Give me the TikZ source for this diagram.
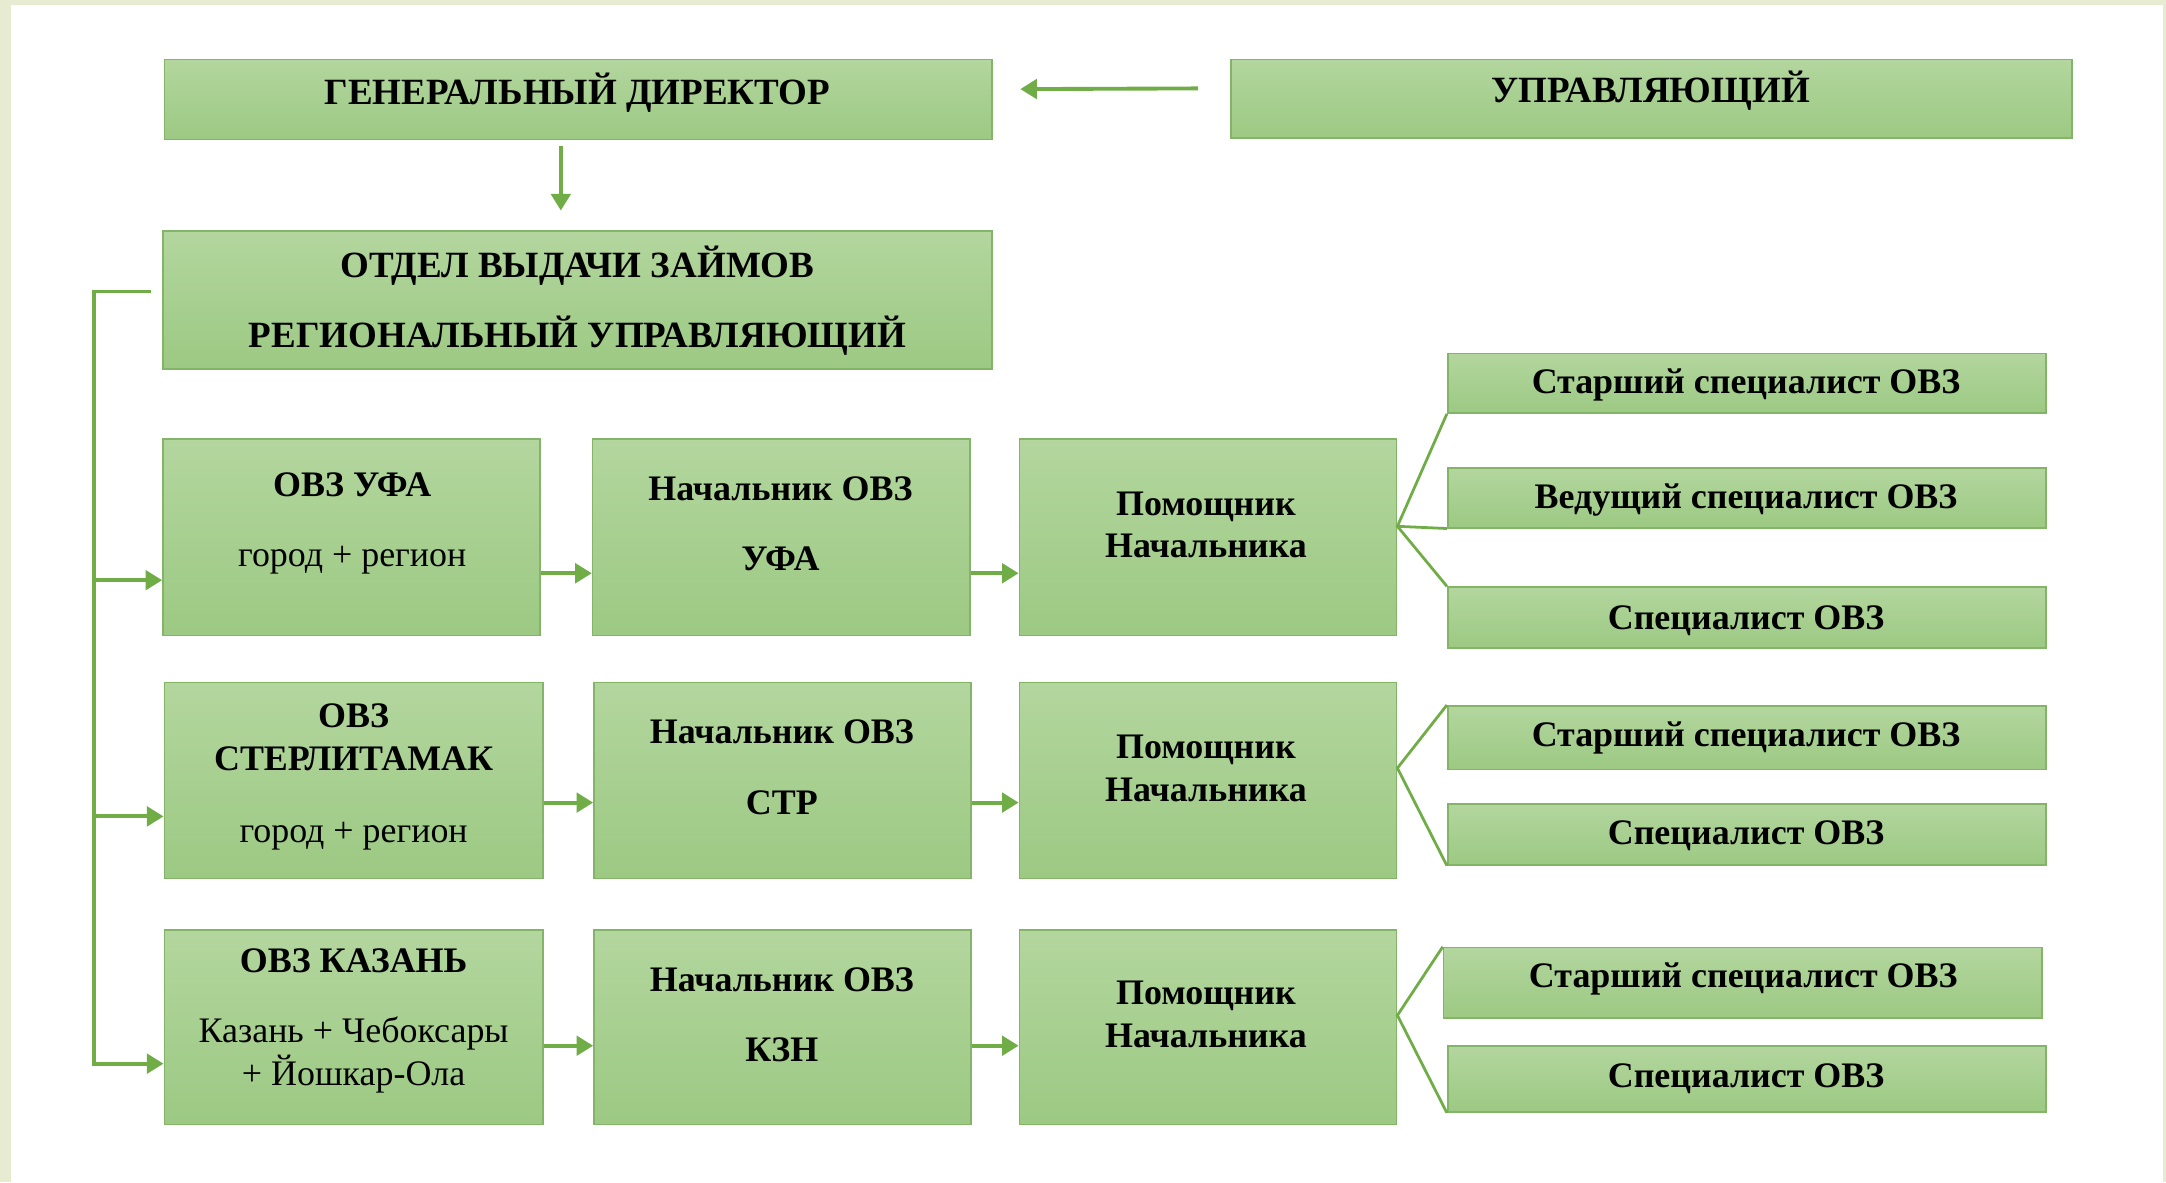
\documentclass[tikz,border=0pt]{standalone}
\usepackage{fontspec}
\setmainfont{Liberation Serif}
\usetikzlibrary{arrows.meta,calc}
\definecolor{cream}{HTML}{E6EBD1}
\definecolor{boxtop}{HTML}{B3D69E}
\definecolor{boxbot}{HTML}{9CC983}
\definecolor{boxline}{HTML}{84B468}
\definecolor{arrowgreen}{HTML}{70AD47}
\newcommand{\bx}[5]{\node[box, minimum width={(#4-#2)*0.5pt}, minimum height={(#5-#3)*0.5pt}] (#1) at ({(#2+#4)/2},{(#3+#5)/2}) {};}
\begin{document}
\begin{tikzpicture}[x={(0.5pt,0)}, y={(0,-0.5pt)},
  box/.style={rectangle, draw=boxline, line width=0.6pt, top color=boxtop, bottom color=boxbot, inner sep=0pt},
  lbl/.style={font=\fontsize{13}{15.5}\selectfont\bfseries, align=center, inner sep=0pt},
  caps/.style={lbl, font=\fontsize{13.4}{15.5}\selectfont\bfseries},
  arr/.style={draw=arrowgreen, line width=1.4pt, -{Triangle[length=6pt,width=7pt]}},
  fan/.style={draw=arrowgreen, line width=1pt}]
% background
\fill[cream] (0,0) rectangle (1568,856);
\fill[white] (8,3.6) rectangle (1566,856);
\useasboundingbox (0,0) rectangle (1568,856);
% boxes
\bx{gd}{119}{43}{718}{101}
\bx{upr}{891}{43}{1500}{100}
\bx{otd}{118}{167}{718}{267}
\bx{ufa}{118}{318}{391}{460}
\bx{nufa}{429}{318}{702}{460}
\bx{pom1}{738}{318}{1011}{460}
\bx{st1}{1048}{256}{1481}{299}
\bx{ved}{1048}{339}{1481}{382}
\bx{sp1}{1048}{425}{1481}{469}
\bx{str}{119}{494}{393}{636}
\bx{nstr}{430}{494}{703}{636}
\bx{pom2}{738}{494}{1011}{636}
\bx{st2}{1048}{511}{1481}{557}
\bx{sp2}{1048}{582}{1481}{626}
\bx{kzn}{119}{673}{393}{814}
\bx{nkzn}{430}{673}{703}{814}
\bx{pom3}{738}{673}{1011}{814}
\bx{st3}{1045}{686}{1478}{737}
\bx{sp3}{1048}{757}{1481}{805}
% texts
\node[caps] (tgd) at (418,67) {ГЕНЕРАЛЬНЫЙ ДИРЕКТОР};
\node[caps] (tupr) at (1195,66) {УПРАВЛЯЮЩИЙ};
\node[caps] (totd) at (418,217.5) {ОТДЕЛ ВЫДАЧИ ЗАЙМОВ\\[10pt]РЕГИОНАЛЬНЫЙ УПРАВЛЯЮЩИЙ};
\node[lbl] (tufa) at (255,379) {ОВЗ УФА\\[10pt]{\mdseries город + регион}};
\node[lbl] (tnufa) at (565,379) {Начальник ОВЗ\\[10pt]УФА};
\node[lbl] (tpom1) at (873,380) {Помощник\\Начальника};
\node[lbl] (tst1) at (1264,279) {Старший специалист ОВЗ};
\node[lbl] (tved) at (1264,362) {Ведущий специалист ОВЗ};
\node[lbl] (tsp1) at (1264,449) {Специалист ОВЗ};
\node[lbl] (tstr) at (256,562.5) {ОВЗ\\СТЕРЛИТАМАК\\[10.5pt]{\mdseries город + регион}};
\node[lbl] (tnstr) at (566,555.5) {Начальник ОВЗ\\[10pt]СТР};
\node[lbl] (tpom2) at (873,556.5) {Помощник\\Начальника};
\node[lbl] (tst2) at (1264,534) {Старший специалист ОВЗ};
\node[lbl] (tsp2) at (1264,605) {Специалист ОВЗ};
\node[lbl] (tkzn) at (256,739) {ОВЗ КАЗАНЬ\\[10pt]{\mdseries Казань + Чебоксары}\\{\mdseries + Йошкар-Ола}};
\node[lbl] (tnkzn) at (566,734.5) {Начальник ОВЗ\\[10pt]КЗН};
\node[lbl] (tpom3) at (873,734.5) {Помощник\\Начальника};
\node[lbl] (tst3) at (1262,709) {Старший специалист ОВЗ};
\node[lbl] (tsp3) at (1264,781) {Специалист ОВЗ};
% top connectors
\draw[arr] ($(upr.west)+(-23,-7.5)$) -- ($(gd.east)+(20,-7.5)$);
\draw[arr] ($(gd.south)+(-12.5,4)$) -- ($(gd.south |- otd.north)+(-12.5,-14)$);
% left bus
\coordinate (bus) at (68,211);
\draw[arr] ($(otd.west)+(-8,-6)$) -- (bus) -- (bus |- {$(kzn.west)+(0,26.5)$}) -- ($(kzn.west)+(0,26.5)$);
\draw[arr] (bus |- {$(ufa.west)+(0,31)$}) -- ($(ufa.west)+(0,31)$);
\draw[arr] (bus |- {$(str.west)+(0,26)$}) -- ($(str.west)+(0,26)$);
% row arrows
\draw[arr] ($(ufa.east)+(0,26)$) -- ($(nufa.west)+(0,26)$);
\draw[arr] ($(nufa.east)+(0,26)$) -- ($(pom1.west)+(0,26)$);
\draw[arr] ($(str.east)+(0,16)$) -- ($(nstr.west)+(0,16)$);
\draw[arr] ($(nstr.east)+(0,16)$) -- ($(pom2.west)+(0,16)$);
\draw[arr] ($(kzn.east)+(0,13.5)$) -- ($(nkzn.west)+(0,13.5)$);
\draw[arr] ($(nkzn.east)+(0,13.5)$) -- ($(pom3.west)+(0,13.5)$);
% fans
\coordinate (j1) at ($(pom1.east)+(0,-8)$);
\draw[fan] (st1.south west) -- (j1) -- (sp1.north west);
\draw[fan] (j1) -- (ved.south west);
\coordinate (j2) at ($(pom2.east)+(0,-9)$);
\draw[fan] (st2.north west) -- (j2) -- (sp2.south west);
\coordinate (j3) at ($(pom3.east)+(0,-8.5)$);
\draw[fan] (st3.north west) -- (j3) -- (sp3.south west);
\end{tikzpicture}
\end{document}
